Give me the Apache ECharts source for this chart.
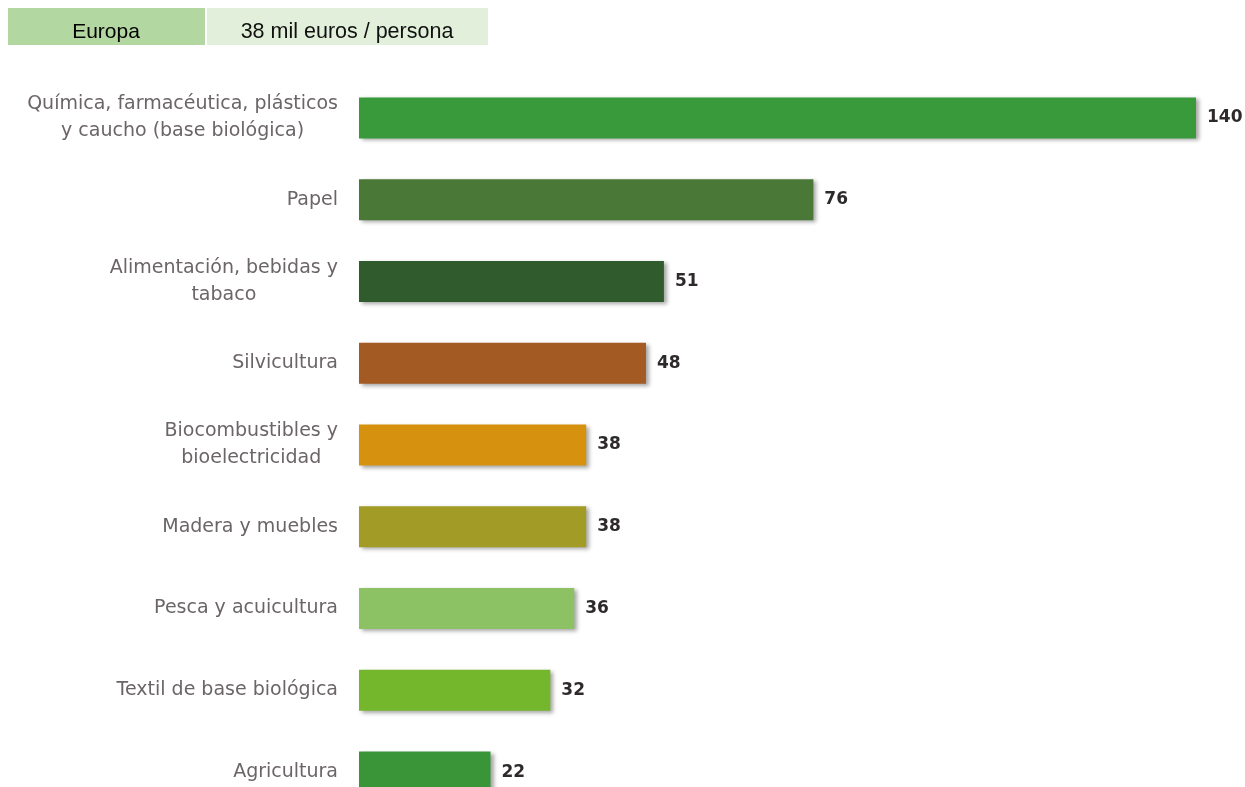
<!DOCTYPE html>
<html lang="es">
<head>
    <meta charset="UTF-8">
    <title>Europa</title>
    <script src="https://cdn.jsdelivr.net/npm/echarts@6/dist/echarts.min.js"></script>
    <style>
        html, body { margin: 0; padding: 0; background: #fff; }
        #main { width: 1245px; height: 787px; }
    </style>
</head>
<body>
    <div id="main"></div>
    <script>
        // datos (de arriba a abajo)
        var sectores = [
            'Química, farmacéutica, plásticos\ny caucho (base biológica)',
            'Papel',
            'Alimentación, bebidas y\ntabaco',
            'Silvicultura',
            'Biocombustibles y\nbioelectricidad',
            'Madera y muebles',
            'Pesca y acuicultura',
            'Textil de base biológica',
            'Agricultura'
        ];
        var valores = [140, 76, 51, 48, 38, 38, 36, 32, 22];
        var colores = ['#399a3c', '#4a7836', '#2f5b2d', '#a35a23', '#d6920f', '#a29c26', '#8cc264', '#75b72c', '#3a9438'];

        var chart = echarts.init(document.getElementById('main'));

        var option = {
            animation: false,
            // el gráfico original está cortado por abajo
            grid: { left: 359, right: 49, top: 77, height: 736, outerBoundsMode: 'none', containLabel: false },
            xAxis: {
                type: 'value', min: 0, max: 140, show: false
            },
            yAxis: {
                type: 'category',
                inverse: true,
                data: sectores,
                axisLine: { show: false },
                axisTick: { show: false },
                axisLabel: {
                    margin: 21,
                    color: '#6b6566',
                    fontFamily: '"DejaVu Sans", sans-serif',
                    fontSize: 19,
                    lineHeight: 27,
                    align: 'right',
                    // líneas centradas dentro del bloque
                    formatter: function (v) {
                        return v.split('\n').map(function (l) { return '{c|' + l + '}'; }).join('\n');
                    },
                    rich: {
                        c: {
                            align: 'center',
                            color: '#6b6566',
                            fontFamily: '"DejaVu Sans", sans-serif',
                            fontSize: 19,
                            lineHeight: 27
                        }
                    }
                }
            },
            series: [{
                type: 'bar',
                barWidth: 41,
                data: valores.map(function (v, i) {
                    return { value: v, itemStyle: { color: colores[i] } };
                }),
                itemStyle: {
                    shadowColor: 'rgba(0,0,0,0.35)',
                    shadowBlur: 4,
                    shadowOffsetX: 3,
                    shadowOffsetY: 2
                },
                label: {
                    show: true,
                    position: 'right',
                    distance: 11,
                    color: '#2e2a2b',
                    fontFamily: '"DejaVu Sans", sans-serif',
                    fontWeight: 'bold',
                    fontSize: 17
                }
            }],
            graphic: [
                { type: 'rect', shape: { x: 8, y: 8, width: 197, height: 37 }, style: { fill: '#b3d7a0' } },
                { type: 'rect', shape: { x: 207, y: 8, width: 281, height: 37 }, style: { fill: '#e2efda' } },
                { type: 'text', x: 106, y: 32, style: { text: 'Europa', fill: '#000', font: '500 21px "Liberation Sans", Arial, sans-serif', align: 'center', verticalAlign: 'middle' } },
                { type: 'text', x: 347, y: 32, style: { text: '38 mil euros / persona', fill: '#111', font: '21.5px "Liberation Sans", Arial, sans-serif', align: 'center', verticalAlign: 'middle' } }
            ]
        };

        chart.setOption(option);
    </script>
</body>
</html>
